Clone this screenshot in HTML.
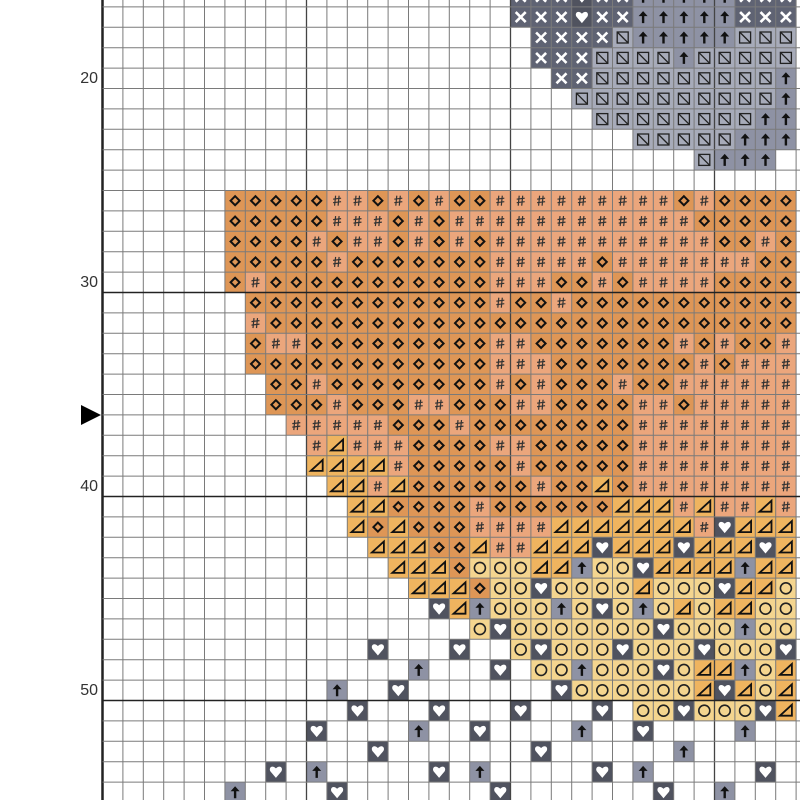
<!DOCTYPE html>
<html><head><meta charset="utf-8">
<style>
html,body{margin:0;padding:0;background:#fff;}
#wrap{position:relative;width:800px;height:800px;overflow:hidden;background:#fff;}
.lbl{position:absolute;left:58px;width:40px;text-align:right;font-family:"Liberation Sans",sans-serif;font-size:16px;color:#333;line-height:16px;}
svg{position:absolute;left:0;top:0;}
</style></head><body>
<div id="wrap">
<svg id="s" width="800" height="800" viewBox="0 0 800 800" xmlns="http://www.w3.org/2000/svg"></svg>
<div class="lbl" style="top:71px">20</div>
<div class="lbl" style="top:275px">30</div>
<div class="lbl" style="top:479px">40</div>
<div class="lbl" style="top:683px">50</div>
</div>
<script>
var X0=102.5,Y0=-13.5,S=20.4,NC=34,NR=40;
var g=[];for(var r=0;r<NR;r++){g.push(new Array(NC).fill('.'));}
function set(r,c,str){for(var i=0;i<str.length;i++){if(c+i<NC)g[r][c+i]=str[i];}}
function rep(ch,n){return new Array(n+1).join(ch);}
set(0,20,"xxxhxxaaaaaxxx");
set(1,20,"xxxhxxaaaaaxxx");
set(2,21,"xxxxnaaaaannn");
set(3,21,"xxxnnnnannnnn");
set(4,22,"xx"+rep('n',9)+"a");
set(5,23,rep('n',10)+"a");
set(6,24,rep('n',8)+"aa");
set(7,26,"nnnnnaaa");
set(8,29,"naaa");
set(10,6,"DDDDD"+"HHDH"+"DHDD"+rep('H',9)+"D"+"H"+"DDDD");
set(11,6,"DDDDD"+"HHHD"+"HDHH"+rep('H',10)+"DDDDD");
set(12,6,"DDDDHDHHD"+"HDHD"+rep('H',11)+"DDHD");
set(13,6,"DDDDDHDDD"+"DDDD"+"HHHHH"+"D"+rep('H',7)+"DD");
set(14,6,"DHDDDDDDD"+"DDDD"+"HHHDDHDHHHHDDDD");
set(15,7,rep('D',12)+"H"+"DDH"+rep('D',11));
set(16,7,"H"+rep('D',26));
set(17,7,"DHH"+rep('D',9)+"HH"+rep('D',7)+"HDHDDH");
set(18,7,rep('D',12)+"HHH"+rep('D',7)+"HDHHH");
set(19,8,"DDH"+rep('D',8)+"HDHDDDHDD"+rep('H',6));
set(20,8,"DDDHDDDHHDD"+"DHHDDDDHHD"+rep('H',5));
set(21,9,"HHHHH"+"DDD"+"H"+"D"+rep('D',7)+rep('H',8));
set(22,10,"HTHHH"+"DDDD"+"HH"+rep('D',5)+rep('H',8));
set(23,10,"TTTT"+"H"+"DDDDD"+"H"+rep('D',5)+rep('H',8));
set(24,11,"TTHT"+rep('D',6)+"HDDTD"+rep('H',8));
set(25,12,"TT"+"DDDD"+"HDD"+"DDDD"+"TTTHTHHTH");
set(26,12,"TDT"+"DDD"+"HHH"+"H"+rep('T',7)+"Hh"+"TTT");
set(27,13,"TTTDDTHH"+"TTTh"+"TTTh"+"TTTh"+"T");
set(28,14,"TTTDOOO"+"TTaOOh"+"TTTT"+"aTT");
set(29,15,"TTTDOO"+"hOOOOTOOOhTTO");
set(30,16,"hTaOOOaOhOaOTOTTOO");
set(31,18,"Oh"+rep('O',7)+"h"+"OOO"+"aOO");
set(32,13,"h");set(32,17,"h");set(32,20,"OhOOOhOOOhOOOh");
set(33,15,"a");set(33,19,"h");set(33,21,"OOaOOOhOTTaOT");
set(34,11,"a");set(34,14,"h");set(34,22,"h"+rep('O',6)+"ThTOT");
set(35,12,"h");set(35,16,"h");set(35,20,"h");set(35,24,"h");set(35,26,"OOhOOOhT");
set(36,10,"h");set(36,15,"a");set(36,18,"h");set(36,23,"a");set(36,26,"h");set(36,31,"a");
set(37,13,"h");set(37,21,"h");set(37,28,"a");
set(38,8,"h");set(38,10,"a");set(38,16,"h");set(38,18,"a");set(38,24,"h");set(38,26,"a");set(38,32,"h");
set(39,6,"a");set(39,11,"h");set(39,19,"h");set(39,27,"h");set(39,30,"a");

var col={D:"#de9656",H:"#eba67c",T:"#efb45f",O:"#f4d58f",h:"#50535f",a:"#8e92a4",x:"#5f6373",n:"#a7abb9"};
var out=[];
for(var r=0;r<NR;r++)for(var c=0;c<NC;c++){
 var t=g[r][c];if(t=='.')continue;
 var x=X0+c*S,y=Y0+r*S,cx=x+S/2,cy=y+S/2;
 out.push('<rect x="'+x.toFixed(1)+'" y="'+y.toFixed(1)+'" width="'+S+'" height="'+S+'" fill="'+col[t]+'"/>');
 if(t=='D'){out.push('<polygon points="'+cx+','+(cy-4.5)+' '+(cx+4.5)+','+cy+' '+cx+','+(cy+4.5)+' '+(cx-4.5)+','+cy+'" fill="none" stroke="#111" stroke-width="2"/>');}
 else if(t=='H'){out.push('<g stroke="#333" stroke-width="1.2"><line x1="'+(cx-1.5)+'" y1="'+(cy-5)+'" x2="'+(cx-2.5)+'" y2="'+(cy+5)+'"/><line x1="'+(cx+2)+'" y1="'+(cy-5)+'" x2="'+(cx+1)+'" y2="'+(cy+5)+'"/><line x1="'+(cx-4)+'" y1="'+(cy-1.5)+'" x2="'+(cx+4)+'" y2="'+(cy-2.5)+'"/><line x1="'+(cx-4)+'" y1="'+(cy+2)+'" x2="'+(cx+4)+'" y2="'+(cy+1)+'"/></g>');}
 else if(t=='T'){out.push('<polygon points="'+(cx-6)+','+(cy+5)+' '+(cx+6)+','+(cy+5)+' '+(cx+6)+','+(cy-6)+'" fill="none" stroke="#111" stroke-width="1.8"/>');}
 else if(t=='O'){out.push('<circle cx="'+cx+'" cy="'+cy+'" r="5.5" fill="none" stroke="#222" stroke-width="1.6"/>');}
 else if(t=='h'){out.push('<path d="M'+cx+','+(cy+6)+' L'+(cx-5.5)+','+(cy-0.5)+' C'+(cx-7.5)+','+(cy-4)+' '+(cx-4)+','+(cy-7.5)+' '+cx+','+(cy-3.5)+' C'+(cx+4)+','+(cy-7.5)+' '+(cx+7.5)+','+(cy-4)+' '+(cx+5.5)+','+(cy-0.5)+' Z" fill="#fff"/>');}
 else if(t=='a'){out.push('<path d="M'+cx+','+(cy-6)+' L'+(cx+4.5)+','+(cy-1)+' L'+(cx+1.2)+','+(cy-1)+' L'+(cx+1.2)+','+(cy+6)+' L'+(cx-1.2)+','+(cy+6)+' L'+(cx-1.2)+','+(cy-1)+' L'+(cx-4.5)+','+(cy-1)+' Z" fill="#111"/>');}
 else if(t=='x'){out.push('<g stroke="#fff" stroke-width="2.6"><line x1="'+(cx-5)+'" y1="'+(cy-5)+'" x2="'+(cx+5)+'" y2="'+(cy+5)+'"/><line x1="'+(cx+5)+'" y1="'+(cy-5)+'" x2="'+(cx-5)+'" y2="'+(cy+5)+'"/></g>');}
 else if(t=='n'){out.push('<rect x="'+(cx-5.5)+'" y="'+(cy-5.5)+'" width="11" height="11" fill="none" stroke="#222" stroke-width="1.3"/><line x1="'+(cx-5)+'" y1="'+(cy-5)+'" x2="'+(cx+5)+'" y2="'+(cy+5)+'" stroke="#222" stroke-width="1.3"/>');}
}
for(var i=0;i<=NC;i++){var x=X0+i*S;if(x>801)break;
 var thick=(i%10==0&&i>0);
 out.push('<line x1="'+x.toFixed(1)+'" y1="0" x2="'+x.toFixed(1)+'" y2="800" stroke="'+(i==0?'#222':(thick?'#444':'#7a7a7a'))+'" stroke-width="'+(i==0?2.5:(thick?1.3:1))+'"/>');}
for(var j=0;j<=NR+1;j++){var y=Y0+j*S;if(y<0)continue;
 var thick=(j==15||j==25||j==35);
 out.push('<line x1="'+X0+'" y1="'+y.toFixed(1)+'" x2="800" y2="'+y.toFixed(1)+'" stroke="'+(thick?'#222':'#7a7a7a')+'" stroke-width="'+(thick?1.6:1)+'"/>');}
out.push('<polygon points="81,405 101,415 81,425" fill="#000"/>');
document.getElementById('s').innerHTML=out.join('');
</script>
</body></html>
